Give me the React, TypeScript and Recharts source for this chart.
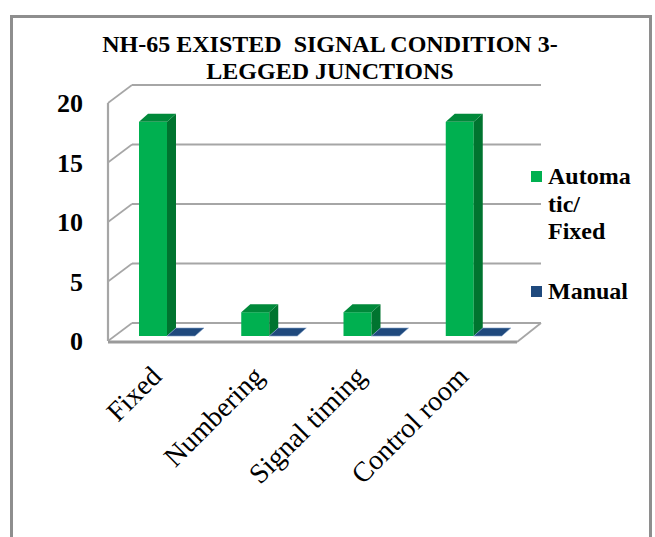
import React from "react";
import {
  BarChart,
  Bar,
  XAxis,
  YAxis,
  CartesianGrid,
  ReferenceLine,
} from "recharts";

const categories = ["Fixed", "Numbering", "Signal timing", "Control room"];
const automaticFixed = [18, 2, 2, 18];
const manual = [0, 0, 0, 0];
const yTicks = [0, 5, 10, 15, 20];

const SERIES = [
  { key: "auto", name: "Automatic/ Fixed", front: "#00B050", side: "#00742F", top: "#00893A" },
  { key: "manual", name: "Manual", front: "#1F497D", side: "#17375E", top: "#1F497D" },
];

const data = categories.map((c, i) => ({
  name: c,
  auto: automaticFixed[i],
  manual: manual[i],
}));

const FONT = '"Liberation Serif", "Times New Roman", serif';
const GRID = "#A6A6A6";
// depth of the back wall / floor
const DX = 24;
const DY = -18;
// bars sit partway into the depth
const SX = 8;
const SY = -5;
// bar thickness
const BX = 9;
const BY = -8;

const makeBarShape = (front: string, side: string, top: string) => (props: any) => {
  const { x, y, width, height } = props;
  const fx = x + SX;
  const fy = y + SY;
  const w = width;
  const h = Math.max(height, 0);
  if (h < 0.5) {
    const b = fy + h;
    return (
      <polygon
        points={`${fx},${b} ${fx + w},${b} ${fx + w + BX},${b + BY} ${fx + BX},${b + BY}`}
        fill={top}
        stroke="#7FA0C8"
        strokeWidth={0.6}
      />
    );
  }
  return (
    <g>
      <rect x={fx} y={fy} width={w} height={h} fill={front} />
      <polygon
        points={`${fx + w},${fy} ${fx + w + BX},${fy + BY} ${fx + w + BX},${fy + h + BY} ${fx + w},${fy + h}`}
        fill={side}
      />
      <polygon
        points={`${fx},${fy} ${fx + BX},${fy + BY} ${fx + w + BX},${fy + BY} ${fx + w},${fy}`}
        fill={top}
      />
    </g>
  );
};

const gridLine = (props: any) => {
  const { x1, y1, x2, y2, index } = props;
  return (
    <g key={`g-${index}-${y1}`}>
      <line x1={x1 + DX} y1={y1 + DY} x2={x2 + DX} y2={y2 + DY} stroke={GRID} strokeWidth={2.2} />
      <line x1={x1} y1={y1} x2={x1 + DX} y2={y1 + DY} stroke={GRID} strokeWidth={1.6} />
    </g>
  );
};

const floorShape = (props: any) => {
  const { x1, y1, x2 } = props;
  return (
    <g>
      <line x1={x1} y1={y1 + 1} x2={x2} y2={y1 + 1} stroke="#9A9A9A" strokeWidth={3} />
      <line x1={x2} y1={y1 + 1} x2={x2 + DX} y2={y1 + DY} stroke={GRID} strokeWidth={1.8} />
    </g>
  );
};

const YTick = (props: any) => {
  const { x, y, payload } = props;
  return (
    <text
      x={x - 25}
      y={y}
      dy="0.35em"
      textAnchor="end"
      fontFamily={FONT}
      fontWeight="bold"
      fontSize={26}
      fill="#000"
    >
      {payload.value}
    </text>
  );
};

const XTick = (props: any) => {
  const { x, y, payload } = props;
  const tx = x + 4;
  const ty = y + 37;
  return (
    <text
      x={tx}
      y={ty}
      textAnchor="end"
      transform={`rotate(-45 ${tx} ${ty})`}
      fontFamily={FONT}
      fontSize={28}
      fill="#000"
    >
      {payload.value}
    </text>
  );
};

export default function App() {
  return (
    <div
      style={{
        position: "absolute",
        left: 0,
        top: 0,
        width: 655,
        height: 537,
        overflow: "hidden",
        background: "#fff",
      }}
    >
      <div
        style={{
          position: "absolute",
          left: 10,
          top: 15,
          width: 642,
          height: 600,
          border: "3px solid #8E8E8E",
          boxSizing: "border-box",
        }}
      />
      <div
        style={{
          position: "absolute",
          left: 0,
          width: 660,
          top: 31,
          textAlign: "center",
          fontFamily: FONT,
          fontWeight: "bold",
          fontSize: 24,
          lineHeight: "27px",
          color: "#000",
          whiteSpace: "pre",
        }}
      >
        <div>{"NH-65 EXISTED  SIGNAL CONDITION 3-"}</div>
        <div>LEGGED JUNCTIONS</div>
      </div>
      <div style={{ position: "absolute", left: 0, top: 0 }}>
        <BarChart
          width={655}
          height={537}
          data={data}
          margin={{ top: 103, right: 138, bottom: 136, left: 0 }}
          barSize={28}
          barGap={0}
        >
          <CartesianGrid vertical={false} horizontal={gridLine} />
          <XAxis
            dataKey="name"
            axisLine={false}
            tickLine={false}
            tickSize={0}
            tickMargin={0}
            height={60}
            interval={0}
            tick={<XTick />}
          />
          <YAxis
            domain={[0, 20]}
            ticks={yTicks}
            width={108}
            axisLine={{ stroke: GRID, strokeWidth: 2.2 }}
            tickLine={false}
            tickSize={0}
            tickMargin={0}
            tick={<YTick />}
          />
          <ReferenceLine y={0} shape={floorShape} />
          {SERIES.map((s) => (
            <Bar
              key={s.key}
              dataKey={s.key}
              name={s.name}
              fill={s.front}
              isAnimationActive={false}
              shape={makeBarShape(s.front, s.side, s.top)}
            />
          ))}
        </BarChart>
      </div>
      <div
        style={{
          position: "absolute",
          left: 531,
          top: 163,
          fontFamily: FONT,
          fontWeight: "bold",
          fontSize: 24,
          lineHeight: "27.5px",
          color: "#000",
        }}
      >
        {SERIES.map((s, i) => (
          <div
            key={s.key}
            style={{
              display: "flex",
              alignItems: "flex-start",
              marginTop: i === 0 ? 0 : 32,
            }}
          >
            <span
              style={{
                display: "inline-block",
                width: 11,
                height: 11,
                background: s.front,
                marginTop: 8,
                marginRight: 6,
                flexShrink: 0,
              }}
            />
            <span style={{ width: 86, overflowWrap: "anywhere" }}>{s.name}</span>
          </div>
        ))}
      </div>
    </div>
  );
}
